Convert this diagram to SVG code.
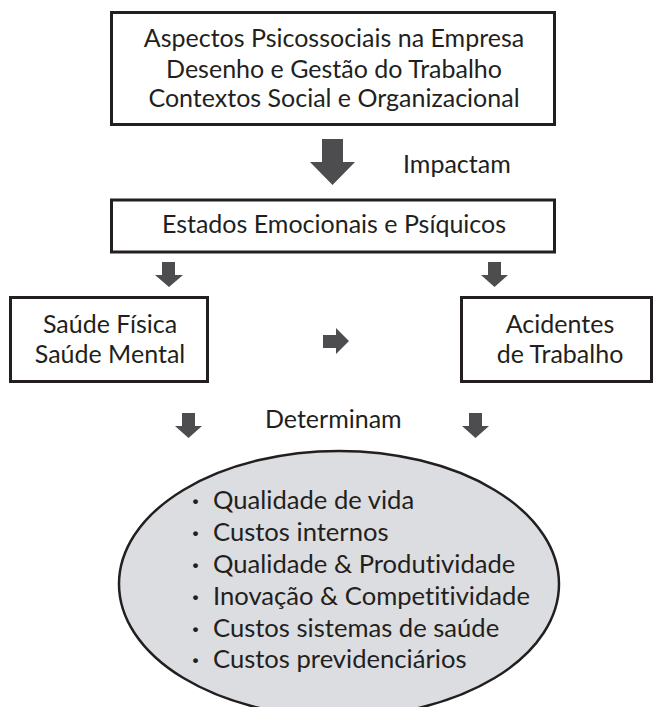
<svg xmlns="http://www.w3.org/2000/svg" width="653" height="707" viewBox="0 0 653 707">
<style>
.box{fill:#fff;stroke:#231f20;stroke-width:3}
.ell{fill:#dcdde0;stroke:#231f20;stroke-width:2.5}
.t{font-family:Lato,"Open Sans","Liberation Sans",sans-serif;font-size:25px;fill:#231f20;font-variant-ligatures:none}
.e{font-size:25.6px}
.b{font-weight:bold}
.c{text-anchor:middle}
.arr{fill:#4d4d4f}
</style>
<rect width="653" height="707" fill="#fff"/>
<g id="n-top">
<rect class="box" x="111.5" y="12.5" width="443" height="112"/>
<text class="t c" x="334" y="47">Aspectos Psicossociais na Empresa</text>
<text class="t c" x="334" y="78">Desenho e Gestão do Trabalho</text>
<text class="t c" x="334" y="107">Contextos Social e Organizacional</text>
</g>
<g id="n-estados">
<rect class="box" x="111.5" y="200" width="443" height="52"/>
<text class="t c" x="334" y="233">Estados Emocionais e Psíquicos</text>
</g>
<g id="n-saude">
<rect class="box" x="10.5" y="297.5" width="197" height="84"/>
<text class="t c" x="110" y="333">Saúde Física</text>
<text class="t c" x="110" y="363">Saúde Mental</text>
</g>
<g id="n-acidentes">
<rect class="box" x="461.5" y="297.5" width="190" height="84"/>
<text class="t c" x="560" y="333">Acidentes</text>
<text class="t c" x="560" y="363">de Trabalho</text>
</g>
<g id="n-impactos">
<ellipse class="ell" cx="339" cy="584" rx="220" ry="133"/>
<text class="t e"><tspan class="b" x="192" y="509">·</tspan><tspan x="213">Qualidade de vida</tspan></text>
<text class="t e"><tspan class="b" x="192" y="541">·</tspan><tspan x="213">Custos internos</tspan></text>
<text class="t e"><tspan class="b" x="192" y="573">·</tspan><tspan x="213">Qualidade &amp; Produtividade</tspan></text>
<text class="t e"><tspan class="b" x="192" y="605">·</tspan><tspan x="213">Inovação &amp; Competitividade</tspan></text>
<text class="t e"><tspan class="b" x="192" y="637">·</tspan><tspan x="213">Custos sistemas de saúde</tspan></text>
<text class="t e"><tspan class="b" x="192" y="668">·</tspan><tspan x="213">Custos previdenciários</tspan></text>
</g>
<g id="connectors">
<polygon class="arr" points="322,139 343,139 343,162 355,162 332.5,185 310,162 322,162"/>
<text class="t" x="403" y="173">Impactam</text>
<polygon class="arr" points="162,262 175,262 175,275 183,275 169,287 155,275 162,275"/>
<polygon class="arr" points="488,262 501,262 501,275 508,275 494.5,287 481,275 488,275"/>
<polygon class="arr" points="323,335 336,335 336,328 349,341 336,354 336,348 323,348"/>
<polygon class="arr" points="182,413 195,413 195,426 202,426 188.5,438 175,426 182,426"/>
<polygon class="arr" points="469,413 482,413 482,426 489,426 475.5,438 462,426 469,426"/>
<text class="t" x="265" y="428">Determinam</text>
</g>
</svg>
